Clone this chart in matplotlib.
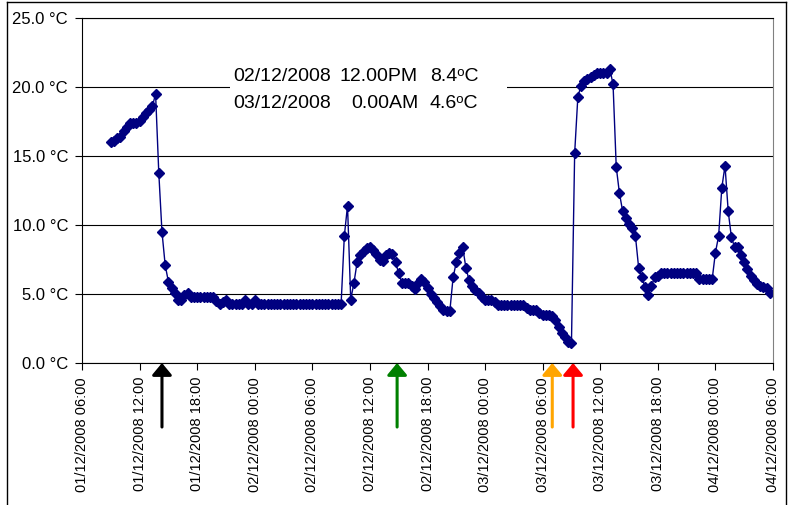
import matplotlib
matplotlib.use('Agg')
import matplotlib.pyplot as plt
import matplotlib.dates as mdates
from matplotlib.lines import Line2D
from matplotlib.patches import Rectangle
import pandas as pd

plt.rcParams['font.family'] = ['Liberation Sans', 'DejaVu Sans']

# logger readings, one every 20 minutes from 01/12/2008 09:00
start = '2008-12-01 09:00'
step = '20min'
temps = [
    16.0, 16.1, 16.3,   # 01/12 09h
    16.4, 16.8, 17.1,
    17.4, 17.4, 17.4,
    17.5, 17.8, 18.1,
    18.3, 18.6, 19.5,
    13.8, 9.5, 7.1,     # 14h
    5.9, 5.4, 5.05,
    4.6, 4.6, 4.9,
    5.1, 4.8, 4.8,
    4.8, 4.8, 4.8,
    4.8, 4.8, 4.8,
    4.5, 4.3, 4.4,      # 20h
    4.6, 4.3, 4.3,
    4.3, 4.3, 4.3,
    4.6, 4.3, 4.3,
    4.6, 4.3, 4.3,      # 02/12 00h
    4.3, 4.3, 4.3,
    4.3, 4.3, 4.3,
    4.3, 4.3, 4.3,
    4.3, 4.3, 4.3,
    4.3, 4.3, 4.3,
    4.3, 4.3, 4.3,      # 06h
    4.3, 4.3, 4.3,
    4.3, 4.3, 4.3,
    4.3, 9.2, 11.4,
    4.6, 5.8, 7.3,
    7.8, 8.1, 8.3,
    8.4, 8.2, 7.9,      # 12h
    7.5, 7.4, 7.8,
    8.0, 7.9, 7.3,
    6.5, 5.8, 5.8,
    5.8, 5.6, 5.35,
    5.8, 6.1, 5.9,
    5.4, 5.0, 4.7,      # 18h
    4.4, 4.1, 3.85,
    3.8, 3.8, 6.2,
    7.3, 8.0, 8.4,
    6.9, 6.0, 5.6,
    5.3, 5.05, 4.8,
    4.6, 4.6, 4.6,      # 03/12 00h
    4.4, 4.2, 4.2,
    4.2, 4.2, 4.2,
    4.2, 4.2, 4.2,
    4.2, 4.0, 3.85,
    3.85, 3.85, 3.6,
    3.5, 3.5, 3.5,      # 06h
    3.4, 3.1, 2.6,
    2.2, 1.9, 1.55,
    1.45, 15.2, 19.3,
    20.1, 20.4, 20.6,
    20.7, 20.9, 21.0,
    21.0, 21.0, 21.0,   # 12h
    21.3, 20.2, 14.2,
    12.3, 11.0, 10.5,
    10.1, 9.8, 9.2,
    6.9, 6.2, 5.5,
    4.95, 5.6, 6.2,
    6.3, 6.5, 6.5,      # 18h
    6.5, 6.5, 6.5,
    6.5, 6.5, 6.5,
    6.5, 6.5, 6.5,
    6.5, 6.1, 6.1,
    6.1, 6.1, 6.1,
    8.0, 9.2, 12.7,     # 04/12 00h
    14.3, 11.0, 9.1,
    8.4, 8.4, 7.8,
    7.3, 6.8, 6.3,
    6.0, 5.75, 5.6,
    5.5, 5.4, 5.05,
]
times = pd.date_range(start, periods=len(temps), freq=step)

yticks = [0, 5, 10, 15, 20, 25]
ytick_labels = ['0.0 °C', '5.0 °C', '10.0 °C', '15.0 °C', '20.0 °C', '25.0 °C']
x_start = pd.Timestamp('2008-12-01 06:00')
x_end = pd.Timestamp('2008-12-04 06:00')

arrow_times = pd.to_datetime(['2008-12-01 14:20', '2008-12-02 14:50',
                              '2008-12-03 07:00', '2008-12-03 09:10'])
arrow_colors = ['black', 'green', 'orange', 'red']

note_dates = ['02/12/2008', '03/12/2008']
note_hours = ['12.00PM', '0.00AM']
note_vals = ['8.4', '4.6']

W, H = 790, 505
fig = plt.figure(figsize=(W / 100, H / 100), dpi=100)
ax = fig.add_axes([82 / W, 1 - 363 / H, (773 - 82) / W, (363 - 18) / H])

ax.plot(times, temps, color='#000080', lw=1.0, marker='D', ms=5.5,
        mfc='#000080', mec='#000080', zorder=2)

ax.set_xlim(x_start, x_end)
ax.set_ylim(0, 25)
ax.set_yticks(yticks)
ax.set_yticklabels(ytick_labels)
ax.xaxis.set_major_locator(mdates.HourLocator(byhour=[0, 6, 12, 18]))
ax.xaxis.set_major_formatter(mdates.DateFormatter('%d/%m/%Y %H:%M'))
plt.setp(ax.get_xticklabels(), rotation=90)

ax.set_axisbelow(True)
ax.yaxis.grid(True, color='black', lw=0.8)
ax.tick_params(axis='both', direction='out', length=5, width=0.8)
ax.tick_params(axis='y', labelsize=12, pad=5)
ax.tick_params(axis='x', labelsize=10.5, pad=5)
for side in ['left', 'bottom', 'top']:
    ax.spines[side].set_color('black')
    ax.spines[side].set_linewidth(0.8)
ax.spines['right'].set_color('#808080')
ax.spines['right'].set_linewidth(0.8)

# white label box over the 20 °C grid line
ax.add_patch(Rectangle((0.2142, 0.719), 0.4009, 0.159, transform=ax.transAxes,
                       facecolor='white', edgecolor='none', zorder=1))
for i, yb in enumerate([0.817, 0.738]):
    ax.text(0.2185, yb, note_dates[i], transform=ax.transAxes, fontsize=14,
            ha='left', va='baseline', zorder=3)
    ax.text(0.4863, yb, note_hours[i], transform=ax.transAxes, fontsize=14,
            ha='right', va='baseline', zorder=3)
    ax.text(0.5036, yb, note_vals[i] + '\u1d52C', transform=ax.transAxes,
            fontsize=14, ha='left', va='baseline', zorder=3)

# arrows under the axis
for t, c in zip(arrow_times, arrow_colors):
    xn = mdates.date2num(t)
    ax.annotate('', xy=(xn, 0), xytext=(xn, -4.64), annotation_clip=False,
                arrowprops=dict(arrowstyle='-|>,head_length=0.36,head_width=0.3',
                                mutation_scale=20, lw=2.2, color=c,
                                shrinkA=0, shrinkB=0))

# outer chart border
fx0, fx1, fy1 = 7 / W, 786 / W, 1 - 2 / H
fig.add_artist(Line2D([fx0, fx0], [0, fy1], color='black', lw=1))
fig.add_artist(Line2D([fx0, fx1], [fy1, fy1], color='black', lw=1))
fig.add_artist(Line2D([fx1, fx1], [0, fy1], color='black', lw=1))

fig.savefig('out.png', dpi=100)
